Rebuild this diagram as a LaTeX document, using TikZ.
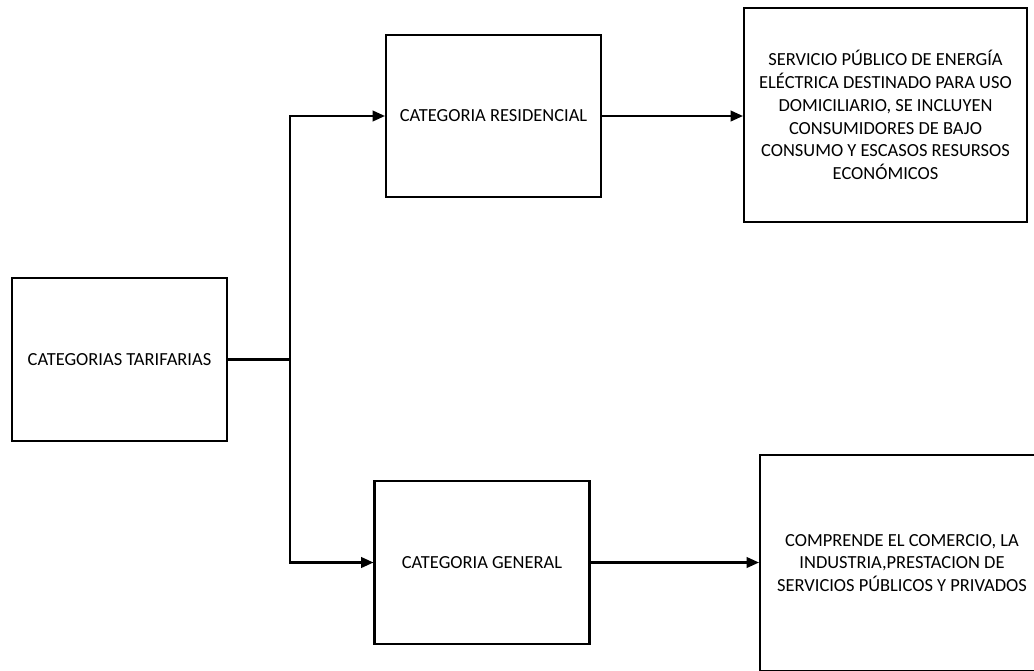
\documentclass[tikz,border=0pt]{standalone}
\usepackage{fontspec}
\setmainfont{Carlito}
\usetikzlibrary{arrows.meta}

\begin{document}
\begin{tikzpicture}[x=0.02cm,y=-0.02cm,
  catbox/.style={draw,line width=1.2pt,minimum width=4.3cm,minimum height=3.25cm,inner sep=0pt,align=center,font=\fontsize{10.5}{13}\selectfont},
  link/.style={line width=1.2pt,-{Triangle[length=7pt,width=6pt]}}]
\clip (0,0) rectangle (1034,670);
\node[catbox] (tarif) at (119.5,359.5) {CATEGORIAS TARIFARIAS};
\node[catbox] (resid) at (493.5,116) {CATEGORIA RESIDENCIAL};
\node[catbox] (gener) at (482,562.5) {CATEGORIA GENERAL};
\node[catbox,minimum width=5.66cm,minimum height=4.28cm] (servicio) at (885.5,115) {SERVICIO PÚBLICO DE ENERGÍA\\ELÉCTRICA DESTINADO PARA USO\\DOMICILIARIO, SE INCLUYEN\\CONSUMIDORES DE BAJO\\CONSUMO Y ESCASOS RESURSOS\\ECONÓMICOS};
\node[catbox,minimum width=5.68cm,minimum height=4.32cm] (comercio) at (902,563) {COMPRENDE EL COMERCIO, LA\\INDUSTRIA,PRESTACION DE\\SERVICIOS PÚBLICOS Y PRIVADOS};
\coordinate (split) at (290,359.5);
\draw[line width=1.2pt] (tarif.east) -- (split);
\draw[link] (split) |- (resid.west);
\draw[link] (split) |- (gener.west);
\draw[link] (resid.east) -- (resid.east -| servicio.west);
\draw[link] (gener.east) -- (gener.east -| comercio.west);
\end{tikzpicture}
\end{document}
